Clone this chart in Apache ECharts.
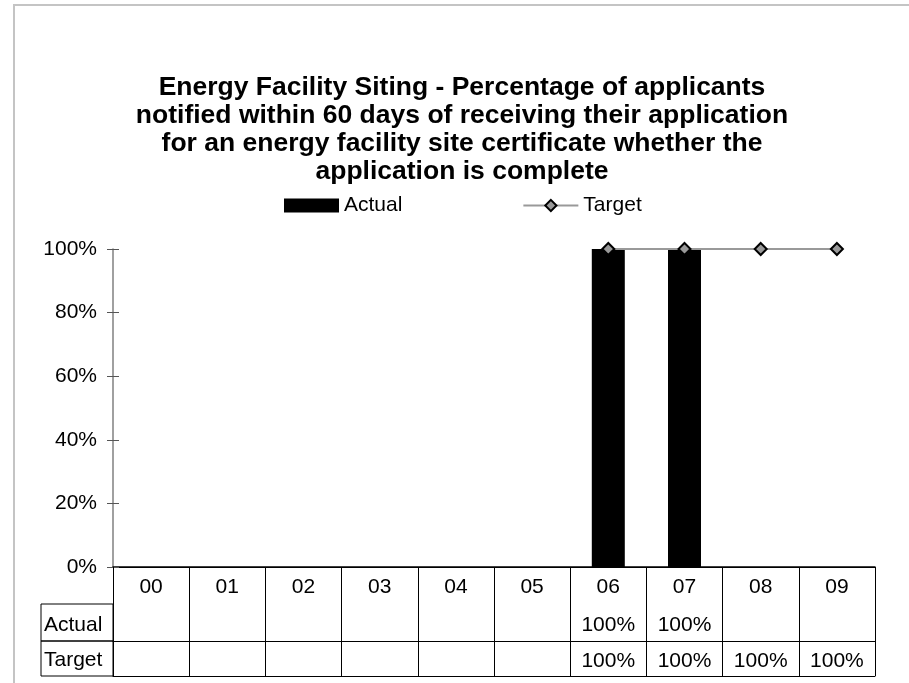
<!DOCTYPE html>
<html>
<head>
<meta charset="utf-8">
<style>
  html, body { margin: 0; padding: 0; background: #fff; }
  #chart { width: 909px; height: 683px; }
</style>
<script src="https://cdn.jsdelivr.net/npm/echarts@6/dist/echarts.min.js"></script>
</head>
<body>
<div id="chart"></div>
<script>
// fiscal years
const years = ["00", "01", "02", "03", "04", "05", "06", "07", "08", "09"];
// percent values, null = no data
const actual = [null, null, null, null, null, null, 100, 100, null, null];
const target = [null, null, null, null, null, null, 100, 100, 100, 100];
const yTicks = [0, 20, 40, 60, 80, 100];

const font = "'Liberation Sans', Arial, sans-serif";
const gridLeft = 113;
const gridRight = 34;
const gridTop = 249;
const axisY = 567; // 0% line
const rowH = [37, 37, 35]; // table rows: years, actual, target
const labelCol = 41; // left edge of row name column

let chart = echarts.init(document.getElementById("chart"));

function pct(v) {
  return v == null ? "" : v + "%";
}

let option = {
  animation: false,
  textStyle: { fontFamily: font },
  title: {
    text:
      "Energy Facility Siting - Percentage of applicants\n" +
      "notified within 60 days of receiving their application\n" +
      "for an energy facility site certificate whether the\n" +
      "application is complete",
    left: 462,
    top: 74,
    padding: 0,
    textAlign: "center",
    textStyle: {
      fontFamily: font,
      fontSize: 26.5,
      fontWeight: "bold",
      color: "#000",
      lineHeight: 28,
    },
  },
  legend: {
    left: 284,
    top: 195,
    padding: 0,
    itemWidth: 55,
    itemHeight: 14,
    itemGap: 120,
    textStyle: { fontFamily: font, fontSize: 21, color: "#000" },
    data: [{ name: "Actual", icon: "rect" }, { name: "Target" }],
  },
  grid: {
    left: gridLeft,
    right: gridRight,
    top: gridTop,
    bottom: 683 - axisY,
  },
  xAxis: [
    {
      type: "category",
      data: years,
      position: "bottom",
      axisLine: { lineStyle: { color: "#000", width: 1.5 } },
      axisTick: {
        show: true,
        interval: 0,
        alignWithLabel: false,
        length: rowH[0] + rowH[1] + rowH[2],
        lineStyle: { color: "#000", width: 1 },
      },
      axisLabel: {
        interval: 0,
        margin: 10,
        fontSize: 21,
        color: "#000",
        fontFamily: font,
      },
      splitLine: { show: false },
    },
    {
      type: "category",
      data: years,
      position: "bottom",
      offset: rowH[0],
      axisLine: { lineStyle: { color: "#000", width: 1 } },
      axisTick: { show: false },
      axisLabel: {
        interval: 0,
        margin: 11,
        fontSize: 21,
        color: "#000",
        fontFamily: font,
        formatter: (v, i) => pct(actual[i]),
      },
    },
    {
      type: "category",
      data: years,
      position: "bottom",
      offset: rowH[0] + rowH[1],
      axisLine: { lineStyle: { color: "#000", width: 1 } },
      axisTick: { show: false },
      axisLabel: {
        interval: 0,
        margin: 10,
        fontSize: 21,
        color: "#000",
        fontFamily: font,
        formatter: (v, i) => pct(target[i]),
      },
    },
    {
      type: "category",
      data: years,
      position: "bottom",
      offset: rowH[0] + rowH[1] + rowH[2],
      axisLine: { lineStyle: { color: "#000", width: 1 } },
      axisTick: { show: false },
      axisLabel: { show: false },
    },
  ],
  yAxis: [
    {
      type: "value",
      min: yTicks[0],
      max: yTicks[yTicks.length - 1],
      interval: yTicks[1] - yTicks[0],
      axisLine: { show: true, lineStyle: { color: "#808080", width: 1.5 } },
      axisTick: { show: true, length: 6, lineStyle: { color: "#555" } },
      axisLabel: {
        margin: 16,
        fontSize: 21,
        color: "#000",
        fontFamily: font,
        formatter: "{value}%",
      },
      splitLine: { show: false },
    },
    {
      type: "value",
      position: "left",
      min: yTicks[0],
      max: yTicks[yTicks.length - 1],
      interval: yTicks[1] - yTicks[0],
      axisLine: { show: false },
      axisTick: { show: true, inside: true, length: 6, lineStyle: { color: "#555" } },
      axisLabel: { show: false },
      splitLine: { show: false },
    },
  ],
  series: [
    {
      name: "Actual",
      type: "bar",
      data: actual,
      barWidth: 33,
      itemStyle: { color: "#000" },
    },
    {
      name: "Target",
      type: "line",
      data: target,
      symbol: "diamond",
      symbolSize: 12,
      lineStyle: { color: "#999", width: 2 },
      itemStyle: { color: "#999", borderColor: "#000", borderWidth: 2 },
      z: 5,
    },
  ],
  graphic: [
    {
      type: "rect",
      shape: { x: 14, y: 5, width: 1000, height: 1000 },
      style: { fill: "none", stroke: "#c4c4c4", lineWidth: 2 },
      silent: true,
    },
    {
      type: "rect",
      shape: { x: labelCol, y: axisY + rowH[0], width: gridLeft - labelCol, height: rowH[1] },
      style: { fill: "none", stroke: "#000", lineWidth: 1 },
      silent: true,
    },
    {
      type: "rect",
      shape: { x: labelCol, y: axisY + rowH[0] + rowH[1], width: gridLeft - labelCol, height: rowH[2] },
      style: { fill: "none", stroke: "#000", lineWidth: 1 },
      silent: true,
    },
    {
      type: "text",
      x: labelCol + 3,
      y: axisY + rowH[0] + rowH[1] / 2 + 3,
      style: {
        text: "Actual",
        font: "21px " + font,
        fill: "#000",
        verticalAlign: "middle",
      },
      silent: true,
    },
    {
      type: "text",
      x: labelCol + 3,
      y: axisY + rowH[0] + rowH[1] + rowH[2] / 2 + 2,
      style: {
        text: "Target",
        font: "21px " + font,
        fill: "#000",
        verticalAlign: "middle",
      },
      silent: true,
    },
  ],
};

option && chart.setOption(option);
</script>
</body>
</html>
